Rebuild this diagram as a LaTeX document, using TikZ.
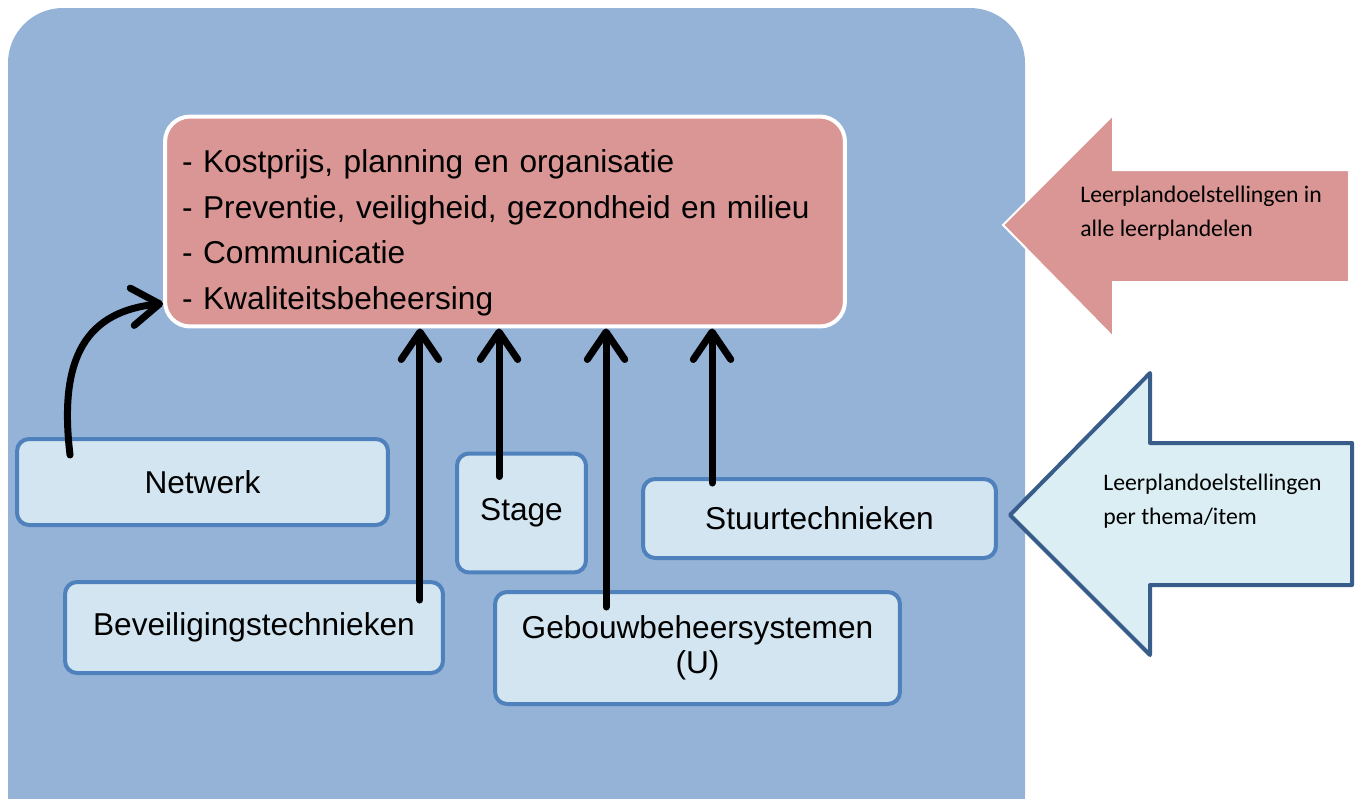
\documentclass[tikz,border=0pt]{standalone}
\usepackage{fontspec}
\setmainfont{Liberation Sans}
\newfontfamily\calibrifont{Carlito}
\usetikzlibrary{arrows.meta}
\definecolor{panelblue}{HTML}{95B3D7}
\definecolor{kernred}{HTML}{D99694}
\definecolor{themafill}{HTML}{D3E5F0}
\definecolor{themaline}{HTML}{4F81BD}
\definecolor{pijlfill}{HTML}{DAEEF3}
\definecolor{pijlline}{HTML}{385D8A}
\tikzstyle{kernbox} = [rectangle, rounded corners=0.5cm, draw=white, line width=0.08cm, fill=kernred, text width=12.92cm, inner xsep=0.34cm, inner ysep=0pt, minimum height=4.2cm, align=left, font=\fontsize{18}{26}\selectfont]
\tikzstyle{themabox} = [rectangle, rounded corners=0.24cm, draw=themaline, line width=0.08cm, fill=themafill, inner sep=0pt, align=center, font=\fontsize{18}{20}\selectfont]
\tikzstyle{flow} = [line width=0.14cm, line cap=round, line join=round, -{Straight Barb[length=0.55cm,width=0.75cm,round]}]
\tikzstyle{pijltekst} = [align=left, anchor=west, inner sep=0pt, font=\calibrifont\fontsize{13.5}{19}\selectfont]

\begin{document}
\begin{tikzpicture}[x=0.02cm, y=-0.02cm]

        \clip (0,0) rectangle (1358,798);

        % Panel
        \fill[panelblue, rounded corners=1.1cm] (8,8) rectangle (1025,850);

        % Kern
        \node (kern) [kernbox] at (505,221.5) {\rule{0pt}{26pt}- Kostprijs, planning en organisatie\\- Preventie, veiligheid, gezondheid en milieu\\- Communicatie\\- Kwaliteitsbeheersing};

        % Thema's
        \node (netwerk) [themabox, minimum width=7.42cm, minimum height=1.72cm] at (202.5,482) {Netwerk};
        \node (bev) [themabox, minimum width=7.56cm, minimum height=1.82cm] at (254,627.5) {Beveiligingstechnieken};
        \node (stage) [themabox, minimum width=2.58cm, minimum height=2.38cm] at (521.5,513) {Stage};
        \node (stuur) [themabox, minimum width=7.06cm, minimum height=1.58cm] at (819.5,518.5) {Stuurtechnieken};
        \node (gebouw) [themabox, minimum width=8.1cm, minimum height=2.24cm] at (697.5,648) {Gebouwbeheersystemen\\(U)};

        % Vertrekpunten
        \coordinate (netout) at ([shift={(55,18)}]netwerk.north west);
        \coordinate (bevout) at ([shift={(-25,20)}]bev.north east);
        \coordinate (stageout) at ([shift={(44,25)}]stage.north west);
        \coordinate (gebouwout) at ([shift={(113,17)}]gebouw.north west);
        \coordinate (stuurout) at ([shift={(71,6)}]stuur.north west);
        \coordinate (kernin) at ([shift={(0,-25)}]kern.south west);

        % Verbindingen
        \draw [flow] (netout) .. controls +(-12,-100) and +(-75,8) .. (kernin);
        \draw [flow] (bevout) -- (bevout |- kern.south);
        \draw [flow] (stageout) -- (stageout |- kern.south);
        \draw [flow] (gebouwout) -- (gebouwout |- kern.south);
        \draw [flow] (stuurout) -- (stuurout |- kern.south);

        % Grote pijlen
        \draw [fill=kernred, draw=white, line width=0.04cm] (1003,225) -- (1113,115) -- (1113,170) -- (1349,170) -- (1349,282) -- (1113,282) -- (1113,337) -- cycle;
        \node (doelalle) [pijltekst] at (1080,213) {Leerplandoelstellingen in\\alle leerplandelen};

        \draw [fill=pijlfill, draw=pijlline, line width=0.08cm, line join=round] (1010,515) -- (1150,373) -- (1150,443) -- (1352,443) -- (1352,585) -- (1150,585) -- (1150,655) -- cycle;
        \node (doelthema) [pijltekst] at (1103,501) {Leerplandoelstellingen\\per thema/item};

    \end{tikzpicture}
\end{document}
